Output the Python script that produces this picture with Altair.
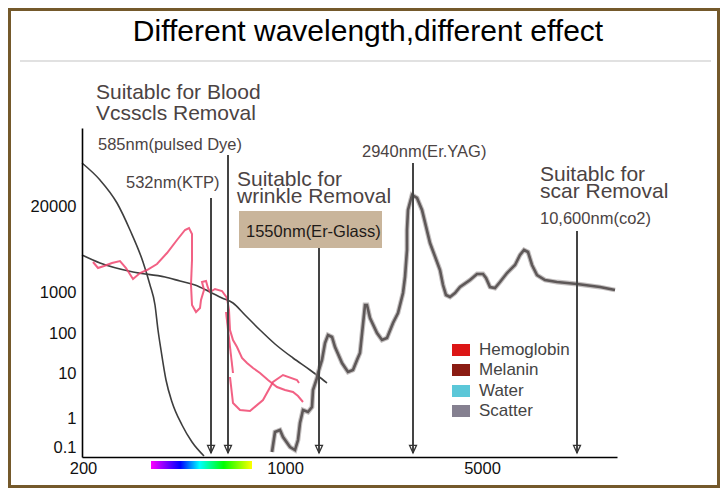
import altair as alt
import pandas as pd

# ---------------- data (chart units: x along the wavelength axis, y along the absorption axis) ----------------
title_text = "Different wavelength,different effect"

x_tick_vals = [1, 203, 400]
x_tick_labels = ["200", "1000", "5000"]
y_tick_vals = [10, 39, 84, 124, 165, 251]
y_tick_labels = ["0.1", "1", "10", "100", "1000", "20000"]

# steep dark curve
steep_x = [0, 18, 35, 48, 61, 68, 73, 76, 79, 84, 90, 100, 110, 122]
steep_y = [294, 277, 254, 227, 195, 172, 152, 127, 107, 77, 55, 32, 15, 1]

# gently falling dark curve
flat_x = [0, 18, 51, 83, 98, 113, 128, 140, 151, 163, 178, 193, 211, 228, 236, 245]
flat_y = [202, 194, 185, 180, 176, 172, 165, 159, 154, 142, 127, 113, 99, 87, 81, 74]

# hemoglobin (pink) pieces
pinkA_x = [11, 16, 22, 30, 38, 44, 51, 58, 65, 75, 85, 95, 103, 107, 110, 110, 109, 110, 114, 118, 119,
           122, 120, 124, 126, 128, 133, 140, 145, 147, 148, 151, 155, 160, 165, 171, 178, 186, 195, 203,
           211, 216, 221]
pinkA_y = [195, 189, 191, 194, 196, 189, 178, 184, 187, 193, 204, 217, 227, 229, 223, 197, 172, 152, 145,
           149, 157, 167, 175, 176, 169, 165, 168, 166, 159, 147, 127, 117, 110, 99, 94, 89, 84, 77, 70, 67,
           65, 61, 55]
pinkB_x = [144, 151]
pinkB_y = [145, 84]
pinkC_x = [148, 151, 158, 168, 181, 191, 201, 215, 217]
pinkC_y = [80, 54, 47, 46, 57, 75, 82, 77, 74]

# water / scatter (thick gray) curve
water_x = [190, 193, 198, 201, 208, 213, 216, 218, 221, 226, 230, 231, 235, 236, 240, 243, 246, 250, 253,
           260, 266, 271, 275, 278, 283, 285, 288, 295, 300, 305, 311, 316, 321, 323, 325, 325, 326, 330,
           335, 340, 348, 358, 361, 364, 368, 373, 378, 388, 395, 401, 404, 408, 413, 418, 425, 433, 438,
           442, 446, 450, 455, 463, 475, 495, 518, 533]
water_y = [5, 25, 27, 20, 10, 7, 17, 34, 47, 45, 50, 67, 79, 84, 97, 114, 122, 120, 110, 94, 85, 87, 97,
           104, 152, 152, 139, 124, 117, 119, 134, 144, 164, 180, 207, 227, 247, 262, 259, 247, 214, 187,
           172, 162, 160, 164, 170, 177, 183, 183, 179, 170, 169, 175, 184, 192, 202, 207, 205, 192, 182,
           177, 175, 173, 170, 167]

# laser wavelengths (arrows)
laser_x = [129, 146, 237, 331, 495]
laser_top = [259, 302, 209, 294, 226]

# annotations
head_text = ["Suitablc for Blood", "Vcsscls Removal", "Suitablc for", "wrinkle Removal",
             "Suitablc for", "scar Removal"]
head_x = [14, 14, 155, 155, 458, 458]
head_y = [358, 337, 271, 254, 276, 259]

nm_text = ["585nm(pulsed Dye)", "532nm(KTP)", "2940nm(Er.YAG)", "10,600nm(co2)"]
nm_x = [16, 44, 280, 458]
nm_y = [307, 269, 300, 233]

box_text = ["1550nm(Er-Glass)"]
box_x = [164]
box_y = [220]
box_x1, box_x2, box_y1, box_y2 = [157], [300], [209], [246]

legend_labels = ["Hemoglobin", "Melanin", "Water", "Scatter"]
legend_colors = ["#dc1616", "#8a1b12", "#5bc7d8", "#858090"]
legend_y = [107, 87, 66, 46]

spectrum_x = [69, 170]
spectrum_y = [-4, -12]

title_pos = [286, 416]
separator = [-62, 629, 396]
frame = [-72.5, 636.5, 447.5, -29.5]

# ---------------- chart ----------------
FONT = "Liberation Sans"
TXT = "#4b4343"
xs = alt.Scale(domain=[0, 535], nice=False, zero=False)
ys = alt.Scale(domain=[0, 329], nice=False, zero=False)


def expr_for(vals, labels):
    e = "''"
    for v, l in zip(vals, labels):
        e = f"datum.value == {v} ? '{l}' : ({e})"
    return e


x_axis = alt.Axis(values=x_tick_vals, labelExpr=expr_for(x_tick_vals, x_tick_labels), ticks=False,
                  grid=False, domainColor="#000", domainWidth=1.6, labelFontSize=16.5, labelColor="#111",
                  labelFont=FONT, labelPadding=3, title=None, labelFlush=False, labelOverlap=False,
                  labelBound=False, zindex=1)
y_axis = alt.Axis(values=y_tick_vals, labelExpr=expr_for(y_tick_vals, y_tick_labels), ticks=False,
                  grid=False, domainColor="#000", domainWidth=1.6, labelFontSize=16.5, labelColor="#111",
                  labelFont=FONT, labelPadding=6, title=None, labelFlush=False, labelOverlap=False,
                  labelBound=False, zindex=1)


def X(field="x"):
    return alt.X(f"{field}:Q", scale=xs, axis=x_axis)


def Y(field="y"):
    return alt.Y(f"{field}:Q", scale=ys, axis=y_axis)


def curve(xv, yv, seg=0):
    return pd.DataFrame({"x": xv, "y": yv, "i": list(range(len(xv))), "seg": seg})


# frame + separator + title
frame_df = pd.DataFrame({"x": [frame[0]], "x2": [frame[1]], "y": [frame[2]], "y2": [frame[3]]})
frame_layer = alt.Chart(frame_df).mark_rect(fillOpacity=0, stroke="#74592b", strokeWidth=3).encode(
    x=X(), x2="x2:Q", y=Y(), y2="y2:Q")
sep_df = pd.DataFrame({"x": [separator[0]], "x2": [separator[1]], "y": [separator[2]]})
sep_layer = alt.Chart(sep_df).mark_rule(color="#c4c4c4", strokeWidth=1.2).encode(x=X(), x2="x2:Q", y=Y())
title_df = pd.DataFrame({"x": [title_pos[0]], "y": [title_pos[1]], "t": [title_text]})
title_layer = alt.Chart(title_df).mark_text(font=FONT, fontSize=30, color="#000", align="center",
                                            baseline="alphabetic").encode(x=X(), y=Y(), text="t:N")

# spectrum bar
spec_df = pd.DataFrame({"x": [spectrum_x[0]], "x2": [spectrum_x[1]], "y": [spectrum_y[0]], "y2": [spectrum_y[1]]})
spec_layer = alt.Chart(spec_df).mark_rect(
    fill=alt.Gradient(gradient="linear", x1=0, x2=1, y1=0, y2=0,
                      stops=[alt.GradientStop(color="#ff00ff", offset=0),
                             alt.GradientStop(color="#0000ff", offset=0.29),
                             alt.GradientStop(color="#00ffff", offset=0.48),
                             alt.GradientStop(color="#00ff00", offset=0.72),
                             alt.GradientStop(color="#ffff00", offset=1)])
).encode(x=X(), x2="x2:Q", y=Y(), y2="y2:Q")

# curves
steep_layer = alt.Chart(curve(steep_x, steep_y)).mark_line(color="#3e3e3e", strokeWidth=1.6,
                                                           interpolate="monotone").encode(
    x=X(), y=Y(), order="i:Q")
flat_layer = alt.Chart(curve(flat_x, flat_y)).mark_line(color="#3e3e3e", strokeWidth=1.6,
                                                        interpolate="monotone").encode(
    x=X(), y=Y(), order="i:Q")
pink_df = pd.concat([curve(pinkA_x, pinkA_y, 0), curve(pinkB_x, pinkB_y, 1), curve(pinkC_x, pinkC_y, 2)])
pink_layer = alt.Chart(pink_df).mark_line(color="#f0456f", strokeWidth=2, opacity=0.85).encode(
    x=X(), y=Y(), order="i:Q", detail="seg:N")
water_df = curve(water_x, water_y)
water_halo = alt.Chart(water_df).mark_line(color="#aaa4a4", strokeWidth=4.8, opacity=0.7).encode(
    x=X(), y=Y(), order="i:Q")
water_layer = alt.Chart(water_df).mark_line(color="#5e5858", strokeWidth=2.6).encode(
    x=X(), y=Y(), order="i:Q")

# laser arrows
box_df = pd.DataFrame({"x": box_x1, "x2": box_x2, "y": box_y1, "y2": box_y2})
box_layer = alt.Chart(box_df).mark_rect(fill="#c9b59b").encode(x=X(), x2="x2:Q", y=Y(), y2="y2:Q")
laser_df = pd.DataFrame({"x": laser_x, "top": laser_top, "bottom": [4] * len(laser_x)})
laser_layer = alt.Chart(laser_df).mark_rule(color="#444", strokeWidth=2).encode(
    x=X(), y=Y("bottom"), y2="top:Q")
arrow_layer = alt.Chart(laser_df).mark_point(
    shape="M -1 -2.2 L 0 0 L 1 -2.2 Z", size=49, filled=False, color="#333", strokeWidth=1.3, opacity=1
).encode(x=X(), y=Y("bottom"))

# texts
head_df = pd.DataFrame({"x": head_x, "y": head_y, "t": head_text})
head_layer = alt.Chart(head_df).mark_text(font=FONT, fontSize=21, color=TXT, align="left",
                                          baseline="alphabetic").encode(x=X(), y=Y(), text="t:N")
nm_df = pd.DataFrame({"x": nm_x, "y": nm_y, "t": nm_text})
nm_layer = alt.Chart(nm_df).mark_text(font=FONT, fontSize=16.5, color=TXT, align="left",
                                      baseline="alphabetic").encode(x=X(), y=Y(), text="t:N")
boxt_df = pd.DataFrame({"x": box_x, "y": box_y, "t": box_text})
boxt_layer = alt.Chart(boxt_df).mark_text(font=FONT, fontSize=16.5, color="#1e1a18", align="left",
                                          baseline="alphabetic").encode(x=X(), y=Y(), text="t:N")

# legend
leg_df = pd.DataFrame({"label": legend_labels, "c": legend_colors, "y": legend_y,
                       "y1": [v - 6 for v in legend_y], "y2": [v + 6 for v in legend_y],
                       "x": [370] * 4, "x2": [388] * 4, "tx": [397] * 4})
leg_sq = alt.Chart(leg_df).mark_rect().encode(x=X(), x2="x2:Q", y=Y("y1"), y2="y2:Q",
                                              fill=alt.Fill("c:N", scale=None))
leg_tx = alt.Chart(leg_df).mark_text(font=FONT, fontSize=17, color="#444", align="left",
                                     baseline="middle").encode(x=X("tx"), y=Y(), text="label:N")

chart = alt.layer(
    frame_layer, sep_layer, title_layer, spec_layer, box_layer,
    steep_layer, flat_layer, pink_layer, water_halo, water_layer,
    laser_layer, arrow_layer, head_layer, nm_layer, boxt_layer, leg_sq, leg_tx
).properties(
    width=535, height=329,
    autosize=alt.AutoSizeParams(type="none"),
    padding={"left": 74, "top": 120, "right": 103, "bottom": 31},
    background="white",
).configure_view(stroke=None)

chart.save("out.html", embed_options={"renderer": "svg", "actions": False})
